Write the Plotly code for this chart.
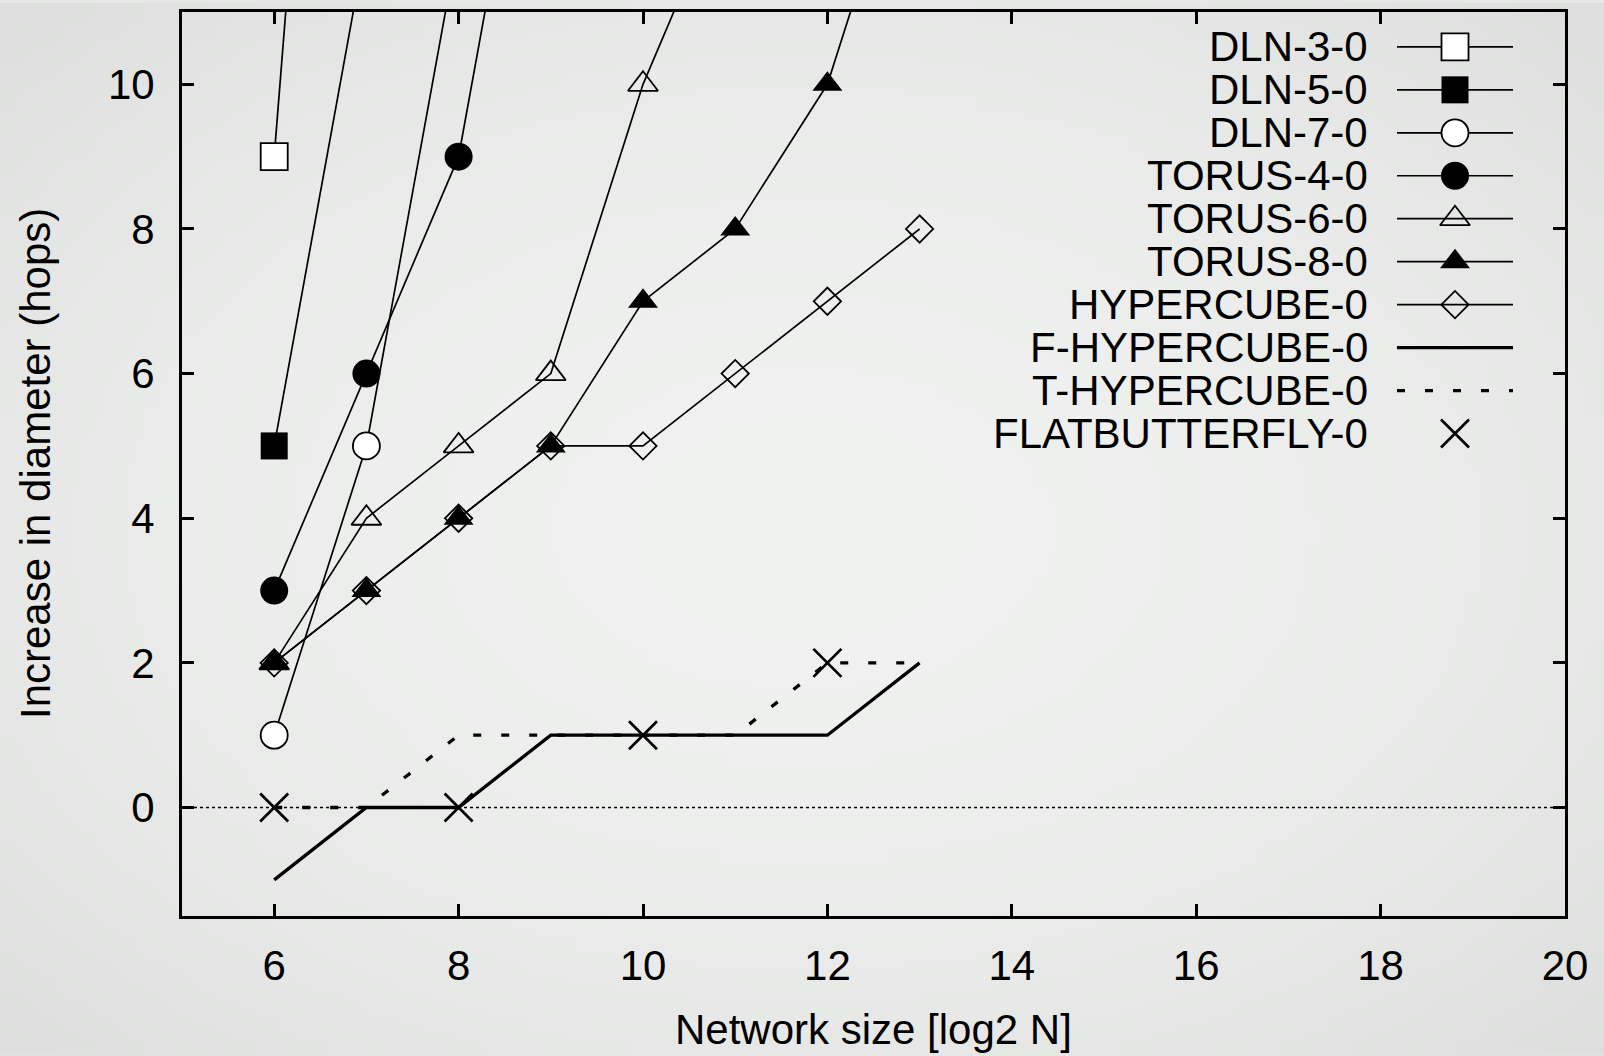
import base64
import struct
import zlib

import numpy as np
import plotly.graph_objects as go

# log2 of network size
x_sizes = [6, 7, 8, 9, 10, 11, 12, 13]

# increase in diameter (hops) for each topology
dln3 = [9, 25]
dln5 = [5, 12]
dln7 = [1, 5, 12]
torus4 = [3, 6, 9, 16]
torus6 = [2, 4, 5, 6, 10, 13]
torus8 = [2, 3, 4, 5, 7, 8, 10, 14]
hypercube = [2, 3, 4, 5, 5, 6, 7, 8]
f_hypercube = [-1, 0, 0, 1, 1, 1, 1, 2]
t_hypercube = [0, 0, 1, 1, 1, 1, 2, 2]
flatbutterfly_x = [6, 8, 10, 12]
flatbutterfly = [0, 0, 1, 2]

x_ticks = [6, 8, 10, 12, 14, 16, 18, 20]
y_ticks = [0, 2, 4, 6, 8, 10]

FONT = "Liberation Sans, Arial, Helvetica, sans-serif"
FS = 42
BLACK = "#000000"

# plot frame in pixels (left, right, top, bottom) on a 1604x1056 page
W, H = 1604, 1056
L, R, T, B = 182, 1565, 9, 916

thin = 1.7
thick = 3.3


def vignette_png(w, h, center=240.0, edge=221.0):
    """Soft grey radial backdrop, encoded as a PNG data URI."""
    yy, xx = np.mgrid[0:h, 0:w]
    rx = (xx - (w - 1) / 2) / ((w - 1) / 2)
    ry = (yy - (h - 1) / 2) / ((h - 1) / 2)
    r2 = (rx ** 2 + ry ** 2) / 2
    v = center - (center - edge) * r2
    rgb = np.stack([v, v + 1.5, v], axis=-1).clip(0, 255).astype(np.uint8)
    raw = b"".join(b"\x00" + rgb[i].tobytes() for i in range(h))

    def chunk(tag, data):
        c = struct.pack(">I", len(data)) + tag + data
        return c + struct.pack(">I", zlib.crc32(tag + data) & 0xFFFFFFFF)

    png = (b"\x89PNG\r\n\x1a\n"
           + chunk(b"IHDR", struct.pack(">IIBBBBB", w, h, 8, 2, 0, 0, 0))
           + chunk(b"IDAT", zlib.compress(raw, 9))
           + chunk(b"IEND", b""))
    return "data:image/png;base64," + base64.b64encode(png).decode()


series = [
    dict(name="DLN-3-0", x=x_sizes[:len(dln3)], y=dln3, mode="lines+markers",
         line=dict(color=BLACK, width=thin),
         marker=dict(symbol="square", size=27, color="white", line=dict(color=BLACK, width=1.8))),
    dict(name="DLN-5-0", x=x_sizes[:len(dln5)], y=dln5, mode="lines+markers",
         line=dict(color=BLACK, width=thin),
         marker=dict(symbol="square", size=27, color=BLACK, line=dict(color=BLACK, width=0))),
    dict(name="DLN-7-0", x=x_sizes[:len(dln7)], y=dln7, mode="lines+markers",
         line=dict(color=BLACK, width=thin),
         marker=dict(symbol="circle", size=27, color="white", line=dict(color=BLACK, width=1.8))),
    dict(name="TORUS-4-0", x=x_sizes[:len(torus4)], y=torus4, mode="lines+markers",
         line=dict(color=BLACK, width=thin),
         marker=dict(symbol="circle", size=28, color=BLACK, line=dict(color=BLACK, width=0))),
    dict(name="TORUS-6-0", x=x_sizes[:len(torus6)], y=torus6, mode="lines+markers",
         line=dict(color=BLACK, width=thin),
         marker=dict(symbol="triangle-up-open", size=26, color=BLACK, line=dict(color=BLACK, width=1.8))),
    dict(name="TORUS-8-0", x=x_sizes[:len(torus8)], y=torus8, mode="lines+markers",
         line=dict(color=BLACK, width=thin),
         marker=dict(symbol="triangle-up", size=26, color=BLACK, line=dict(color=BLACK, width=0))),
    dict(name="HYPERCUBE-0", x=x_sizes[:len(hypercube)], y=hypercube, mode="lines+markers",
         line=dict(color=BLACK, width=thin),
         marker=dict(symbol="diamond-open", size=21, color=BLACK, line=dict(color=BLACK, width=1.8))),
    dict(name="F-HYPERCUBE-0", x=x_sizes[:len(f_hypercube)], y=f_hypercube, mode="lines",
         line=dict(color=BLACK, width=thick)),
    dict(name="T-HYPERCUBE-0", x=x_sizes[:len(t_hypercube)], y=t_hypercube, mode="lines",
         line=dict(color=BLACK, width=thick, dash="8px,20px")),
    dict(name="FLATBUTTERFLY-0", x=flatbutterfly_x, y=flatbutterfly, mode="markers",
         marker=dict(symbol="x-thin-open", size=28, color=BLACK, line=dict(color=BLACK, width=2.7))),
]

fig = go.Figure()

for s in series:
    fig.add_trace(go.Scatter(
        x=s["x"], y=s["y"], mode=s["mode"], name=s["name"],
        line=s.get("line"), marker=s.get("marker"), showlegend=False,
    ))

# key: right-aligned labels with line/point samples, laid out in pixel space
key_text_right = 1370
key_x0, key_x1 = 1397, 1513
key_y0, key_dy = 44, 43.1
annotations = []
for i, s in enumerate(series):
    ky = key_y0 + i * key_dy
    kxm = (key_x0 + key_x1) / 2
    if "line" in s and "lines" in s["mode"]:
        fig.add_trace(go.Scatter(
            x=[key_x0, key_x1], y=[ky, ky], mode="lines", line=s["line"],
            xaxis="x2", yaxis="y2", showlegend=False, hoverinfo="skip",
        ))
    if "markers" in s["mode"]:
        fig.add_trace(go.Scatter(
            x=[kxm], y=[ky], mode="markers", marker=s["marker"],
            xaxis="x2", yaxis="y2", showlegend=False, hoverinfo="skip",
        ))
    annotations.append(dict(
        text=s["name"], x=key_text_right, y=ky, xref="x2", yref="y2",
        xanchor="right", yanchor="middle", showarrow=False,
        font=dict(family=FONT, size=FS, color=BLACK),
    ))

# axis titles
annotations.append(dict(
    text="Network size [log2 N]", x=0.5, y=-(1030 - B) / (B - T), xref="paper", yref="paper",
    xanchor="center", yanchor="middle", showarrow=False,
    font=dict(family=FONT, size=FS, color=BLACK),
))
annotations.append(dict(
    text="Increase in diameter (hops)", x=(35 - L) / (R - L), y=0.5, xref="paper", yref="paper",
    xanchor="center", yanchor="middle", showarrow=False, textangle=-90,
    font=dict(family=FONT, size=FS, color=BLACK),
))

axis_common = dict(
    showgrid=False, zeroline=False, showline=True, linecolor=BLACK, linewidth=3,
    mirror="ticks", ticks="inside", ticklen=12, tickwidth=3, tickcolor=BLACK,
    tickfont=dict(family=FONT, size=FS, color=BLACK),
)

fig.update_layout(
    width=W, height=H,
    margin=dict(l=L, r=W - R, t=T, b=H - B, pad=0),
    paper_bgcolor="#e6e8e6",
    plot_bgcolor="rgba(0,0,0,0)",
    showlegend=False,
    xaxis=dict(range=[5, 20], tickvals=x_ticks, ticklabelstandoff=11, **axis_common),
    yaxis=dict(range=[-1.5, 11], tickvals=y_ticks, ticklabelstandoff=16, **axis_common),
    xaxis2=dict(range=[L, R], overlaying="x", anchor="y2", visible=False, fixedrange=True),
    yaxis2=dict(range=[B, T], overlaying="y", anchor="x2", visible=False, fixedrange=True),
    annotations=annotations,
    images=[dict(
        source=vignette_png(160, 106), xref="paper", yref="paper",
        x=-L / (R - L), y=1 + T / (B - T), sizex=W / (R - L), sizey=H / (B - T),
        xanchor="left", yanchor="top", sizing="stretch", layer="below",
    )],
    shapes=[dict(
        type="line", xref="paper", yref="y", x0=0, x1=1, y0=0, y1=0,
        line=dict(color=BLACK, width=1.5, dash="3px,3px"), layer="below",
    )],
)

fig.write_html("out.html")
